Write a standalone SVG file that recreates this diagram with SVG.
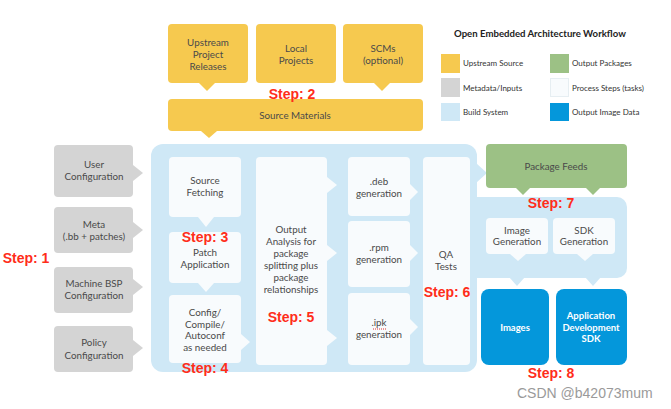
<svg xmlns="http://www.w3.org/2000/svg" width="671" height="409" viewBox="0 0 671 409">
<style>
.y{fill:#f6c94f}
.g{fill:#d4d4d4}
.lb{fill:#cfe8f6}
.w{fill:#f8fbfd}
.gr{fill:#9cc185}
.bl{fill:#0497db}
.t{font-family:Lato,"Liberation Sans",sans-serif;font-size:9.8px;fill:#4a4a4a;text-anchor:middle}
.tw{font-family:Lato,"Liberation Sans",sans-serif;font-size:9.5px;fill:#ffffff;text-anchor:middle;font-weight:bold}
.st{font-family:"Liberation Sans",Arial,sans-serif;font-size:14px;font-weight:bold;fill:#ff2d1a;text-anchor:middle}
.lg{font-family:Lato,"Liberation Sans",sans-serif;font-size:8px;fill:#333}
</style>
<rect width="671" height="409" fill="#ffffff"/>

<!-- build system panel -->
<g id="build-system">
<rect class="lb" x="151" y="144" width="326" height="228" rx="12"/>
<rect class="lb" x="466" y="197" width="161" height="81" rx="10"/>
</g>

<g id="connectors">
<polygon class="y" points="199,83 215,83 207,91"/>
<polygon class="y" points="374,83 390,83 382,91"/>
<polygon class="y" points="201,131 217,131 209,138"/>
<polygon class="g" points="133,165 133,181 143,173"/>
<polygon class="g" points="133,222 133,238 143,230"/>
<polygon class="g" points="133,279 133,295 143,287"/>
<polygon class="g" points="133,340 133,356 143,348"/>
<polygon class="w" points="198,217 214,217 206,227"/>
<polygon class="w" points="198,283 214,283 206,292"/>
<polygon class="w" points="241,334 241,350 250,342"/>
<polygon class="w" points="327,177 327,193 337,185"/>
<polygon class="w" points="327,245 327,261 337,253"/>
<polygon class="w" points="327,330 327,346 337,338"/>
<polygon class="w" points="410,184 410,200 418,192"/>
<polygon class="w" points="410,245 410,261 418,253"/>
<polygon class="w" points="410,319 410,335 418,327"/>
<polygon class="lb" points="476,163 476,183 487,173"/>
<polygon class="gr" points="515,187 531,187 523,195"/>
<polygon class="gr" points="585,187 601,187 593,195"/>
<polygon class="w" points="510,254 526,254 518,261"/>
<polygon class="w" points="577,254 593,254 585,261"/>
<polygon class="lb" points="509,277 525,277 517,286"/>
<polygon class="lb" points="585,277 601,277 593,286"/>
</g>

<!-- upstream sources -->
<g id="upstream-releases">
<rect class="y" x="168" y="24" width="80" height="59" rx="4"/>
<text class="t" x="208" y="46">Upstream</text>
<text class="t" x="208" y="58">Project</text>
<text class="t" x="208" y="70">Releases</text>
</g>
<g id="local-projects">
<rect class="y" x="256" y="24" width="80" height="59" rx="4"/>
<text class="t" x="296" y="52">Local</text>
<text class="t" x="296" y="64">Projects</text>
</g>
<g id="scms">
<rect class="y" x="343" y="24" width="80" height="59" rx="4"/>
<text class="t" x="383" y="52">SCMs</text>
<text class="t" x="383" y="64">(optional)</text>
</g>
<g id="source-materials">
<rect class="y" x="168" y="99" width="255" height="32" rx="4"/>
<text class="t" x="295" y="119">Source Materials</text>
</g>

<!-- metadata inputs -->
<g id="user-config">
<rect class="g" x="54" y="145" width="79" height="52" rx="4"/>
<text class="t" x="94" y="168">User</text>
<text class="t" x="94" y="180">Configuration</text>
</g>
<g id="meta">
<rect class="g" x="54" y="207" width="79" height="46" rx="4"/>
<text class="t" x="94" y="228">Meta</text>
<text class="t" x="94" y="240">(.bb + patches)</text>
</g>
<g id="machine-bsp">
<rect class="g" x="54" y="267" width="79" height="46" rx="4"/>
<text class="t" x="94" y="287">Machine BSP</text>
<text class="t" x="94" y="299">Configuration</text>
</g>
<g id="policy-config">
<rect class="g" x="54" y="326" width="79" height="46" rx="4"/>
<text class="t" x="94" y="346">Policy</text>
<text class="t" x="94" y="359">Configuration</text>
</g>

<!-- process steps -->
<g id="source-fetching">
<rect class="w" x="169" y="157" width="72" height="60" rx="4"/>
<text class="t" x="205" y="184">Source</text>
<text class="t" x="205" y="196">Fetching</text>
</g>
<g id="patch-application">
<rect class="w" x="169" y="232" width="72" height="51" rx="4"/>
<text class="t" x="205" y="256">Patch</text>
<text class="t" x="205" y="268">Application</text>
</g>
<g id="config-compile">
<rect class="w" x="169" y="295" width="72" height="68" rx="4"/>
<text class="t" x="205" y="316">Config/</text>
<text class="t" x="205" y="328">Compile/</text>
<text class="t" x="205" y="339">Autoconf</text>
<text class="t" x="205" y="351">as needed</text>
</g>
<g id="output-analysis">
<rect class="w" x="256" y="157" width="71" height="208" rx="4"/>
<text class="t" x="291" y="233">Output</text>
<text class="t" x="291" y="245">Analysis for</text>
<text class="t" x="291" y="257">package</text>
<text class="t" x="291" y="269">splitting plus</text>
<text class="t" x="291" y="281">package</text>
<text class="t" x="291" y="293">relationships</text>
</g>
<g id="deb-generation">
<rect class="w" x="348" y="157" width="62" height="59" rx="4"/>
<text class="t" x="379" y="185">.deb</text>
<text class="t" x="379" y="197">generation</text>
</g>
<g id="rpm-generation">
<rect class="w" x="348" y="221" width="62" height="66" rx="4"/>
<text class="t" x="379" y="251">.rpm</text>
<text class="t" x="379" y="263">generation</text>
</g>
<g id="ipk-generation">
<rect class="w" x="348" y="293" width="62" height="72" rx="4"/>
<text class="t" x="379" y="326">.ipk</text>
<line x1="373" y1="329" x2="386" y2="329" stroke="#e0302a" stroke-width="1" stroke-dasharray="1,1"/>
<text class="t" x="379" y="338">generation</text>
</g>
<g id="qa-tests">
<rect class="w" x="423" y="157" width="47" height="208" rx="4"/>
<text class="t" x="446" y="258">QA</text>
<text class="t" x="446" y="270">Tests</text>
</g>

<!-- outputs -->
<g id="package-feeds">
<rect class="gr" x="486" y="144" width="141" height="44" rx="4"/>
<text class="t" x="556" y="170">Package Feeds</text>
</g>
<g id="image-generation">
<rect class="w" x="486" y="218" width="62" height="36" rx="4"/>
<text class="t" x="517" y="234">Image</text>
<text class="t" x="517" y="245">Generation</text>
</g>
<g id="sdk-generation">
<rect class="w" x="553" y="218" width="62" height="36" rx="4"/>
<text class="t" x="584" y="234">SDK</text>
<text class="t" x="584" y="245">Generation</text>
</g>
<g id="images">
<rect class="bl" x="481" y="289" width="68" height="76" rx="8"/>
<text class="tw" x="515" y="331">Images</text>
</g>
<g id="app-dev-sdk">
<rect class="bl" x="556" y="289" width="71" height="76" rx="8"/>
<text class="tw" x="591" y="319">Application</text>
<text class="tw" x="591" y="331">Development</text>
<text class="tw" x="591" y="342">SDK</text>
</g>

<!-- step labels -->
<g id="steps">
<text class="st" x="26" y="263">Step: 1</text>
<text class="st" x="292" y="99">Step: 2</text>
<text class="st" x="205" y="242">Step: 3</text>
<text class="st" x="205" y="373">Step: 4</text>
<text class="st" x="291" y="322">Step: 5</text>
<text class="st" x="447" y="297">Step: 6</text>
<text class="st" x="551" y="208">Step: 7</text>
<text class="st" x="551" y="378">Step: 8</text>
</g>

<!-- legend -->
<g id="legend">
<text x="454" y="37" font-family="Lato,'Liberation Sans',sans-serif" font-size="9.6" font-weight="bold" fill="#222">Open Embedded Architecture Workflow</text>
<rect class="y" x="441" y="54" width="19" height="19"/>
<text class="lg" x="463" y="66">Upstream Source</text>
<rect class="g" x="441" y="78" width="19" height="19"/>
<text class="lg" x="463" y="91">Metadata/Inputs</text>
<rect class="lb" x="441" y="103" width="19" height="18"/>
<text class="lg" x="463" y="115">Build System</text>
<rect class="gr" x="550" y="54" width="19" height="19"/>
<text class="lg" x="572" y="66">Output Packages</text>
<rect x="550.5" y="78.5" width="18" height="18" fill="#f8fbfd" stroke="#e6eef2" stroke-width="1"/>
<text class="lg" x="572" y="91">Process Steps (tasks)</text>
<rect class="bl" x="550" y="103" width="19" height="18"/>
<text class="lg" x="572" y="115">Output Image Data</text>
</g>

<text x="517" y="398" font-family="'Liberation Sans',Arial,sans-serif" font-size="14" fill="#9a9a9a">CSDN @b42073mum</text>
</svg>
